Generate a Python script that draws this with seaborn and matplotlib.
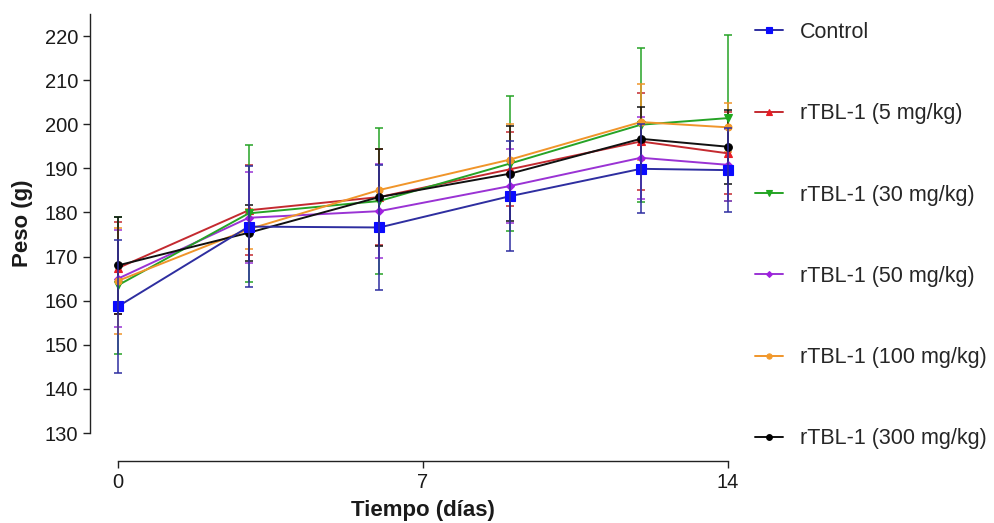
import matplotlib
matplotlib.use("Agg")
import matplotlib.pyplot as plt
import pandas as pd
import seaborn as sns

sns.set_theme(style="ticks")
plt.rcParams["font.family"] = ["Liberation Sans", "DejaVu Sans"]

# Días de medición
dias = [0, 3, 6, 9, 12, 14]

# Peso medio (g) y desviación estándar por grupo
grupos = ["Control", "rTBL-1 (5 mg/kg)", "rTBL-1 (30 mg/kg)",
          "rTBL-1 (50 mg/kg)", "rTBL-1 (100 mg/kg)", "rTBL-1 (300 mg/kg)"]

control_media = [158.7, 176.8, 176.6, 183.7, 189.9, 189.6]
control_de = [15.0, 13.7, 14.1, 12.4, 10.1, 9.6]

r5_media = [167.4, 180.5, 183.5, 189.8, 196.1, 193.4]
r5_de = [10.5, 10.2, 10.8, 8.4, 11.0, 9.3]

r30_media = [163.5, 179.8, 182.6, 191.1, 199.9, 201.4]
r30_de = [15.5, 15.6, 16.6, 15.4, 17.5, 18.8]

r50_media = [165.0, 178.8, 180.3, 186.0, 192.4, 190.8]
r50_de = [11.0, 10.3, 10.6, 8.4, 9.3, 8.1]

r100_media = [164.5, 176.2, 185.1, 192.0, 200.5, 199.3]
r100_de = [12.0, 4.5, 9.2, 8.0, 8.6, 5.5]

r300_media = [168.0, 175.4, 183.5, 188.8, 196.7, 194.9]
r300_de = [11.0, 6.3, 11.0, 10.8, 7.3, 8.4]

y_ticks = [130, 140, 150, 160, 170, 180, 190, 200, 210, 220]
x_ticks = [0, 7, 14]

medias = [control_media, r5_media, r30_media, r50_media, r100_media, r300_media]
desvs = [control_de, r5_de, r30_de, r50_de, r100_de, r300_de]

# (color de línea, color de marcador, marcador, tamaño)
estilos = [
    ("#2e2ea0", "#0a0aff", "s", 6.5),
    ("#c42a30", "#e81c24", "^", 5.5),
    ("#26a326", "#1fa81f", "v", 5.5),
    ("#9a33d4", "#a020e0", "D", 4.0),
    ("#f0952a", "#f39a2a", "o", 5.0),
    ("#111111", "#000000", "o", 5.5),
]

fig = plt.figure(figsize=(9.95, 5.23), dpi=100)
ax = fig.add_axes([0.11859, 0.17208, 0.61307, 0.80115])

handles = []
orden_z = [9, 5, 6, 4, 7, 8]
for i, (g, m, d, (lc, mc, mk, ms)) in enumerate(zip(grupos, medias, desvs, estilos)):
    df = pd.DataFrame({"dia": dias, "peso": m})
    eb = ax.errorbar(dias, m, yerr=d, fmt="none", ecolor=lc, elinewidth=1.1,
                     capsize=3.2, capthick=1.1,
                     zorder=12 if i == 0 else 3 + i * 0.1)
    for art in list(eb.lines[1]) + list(eb.lines[2]):
        art.set_clip_on(False)
    sns.lineplot(data=df, x="dia", y="peso", ax=ax, color=lc, marker=mk,
                 markersize=ms, markerfacecolor=mc, markeredgecolor=mc,
                 markeredgewidth=0.8, linewidth=1.4, clip_on=False,
                 zorder=orden_z[i])
    handles.append(ax.lines[-1])

ax.set_xlim(0, 14)
ax.set_ylim(130, 225)
ax.set_xticks(x_ticks)
ax.set_yticks(y_ticks)

for s in ("top", "right"):
    ax.spines[s].set_visible(False)
for s in ("left", "bottom"):
    ax.spines[s].set_position(("outward", 20.2))
    ax.spines[s].set_linewidth(1.0)
    ax.spines[s].set_color("#222222")

ax.tick_params(axis="both", which="major", labelsize=14.5, length=5,
               width=1.0, color="#222222", labelcolor="#1a1a1a", pad=3.5)

ax.set_xlabel("Tiempo (días)", fontsize=16, fontweight="bold", color="#1a1a1a")
ax.set_ylabel("Peso (g)", fontsize=16, fontweight="bold", color="#1a1a1a")
ax.xaxis.set_label_coords(0.5, -0.159)
ax.yaxis.set_label_coords(-0.139, 0.5)

fig.legend(handles, grupos, loc="upper left",
           bbox_to_anchor=(755 / 995, 1 - 22 / 523),
           frameon=False, fontsize=15.5, handlelength=1.3,
           handletextpad=0.8, labelspacing=2.8, borderpad=0,
           borderaxespad=0, markerscale=0.75)

fig.savefig("out.png", dpi=100)
